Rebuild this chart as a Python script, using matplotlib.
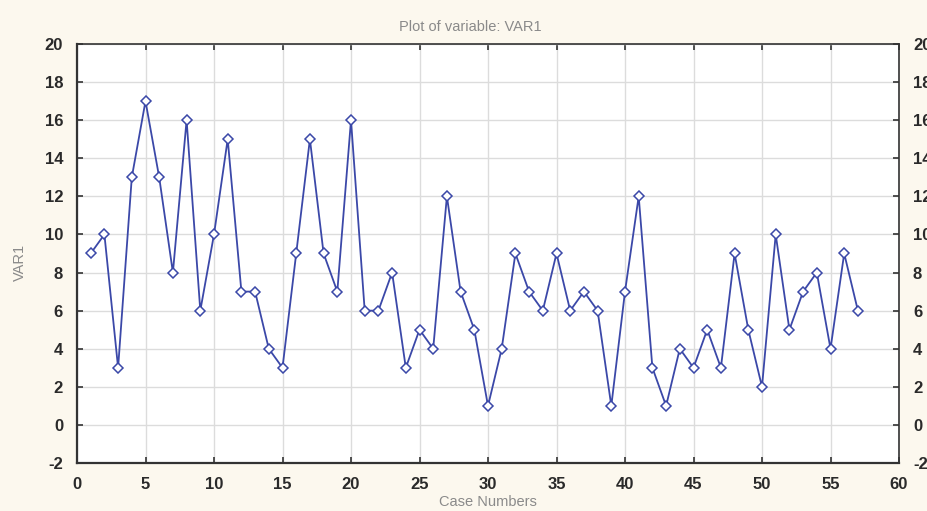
import matplotlib
matplotlib.use("Agg")
import matplotlib.pyplot as plt
import numpy as np

# ─────────────────────────────────────────────
# DATA
# ─────────────────────────────────────────────
case_numbers = list(range(1, 58))
var1 = [9, 10, 3, 13, 17, 13, 8, 16, 6, 10,
        15, 7, 7, 4, 3, 9, 15, 9, 7, 16,
        6, 6, 8, 3, 5, 4, 12, 7, 5, 1,
        4, 9, 7, 6, 9, 6, 7, 6, 1, 7,
        12, 3, 1, 4, 3, 5, 3, 9, 5, 2,
        10, 5, 7, 8, 4, 9, 6]
x_ticks = [0, 5, 10, 15, 20, 25, 30, 35, 40, 45, 50, 55, 60]
y_ticks = [-2, 0, 2, 4, 6, 8, 10, 12, 14, 16, 18, 20]

plt.rcParams["font.family"] = ["Liberation Sans", "DejaVu Sans"]
plt.rcParams["axes.unicode_minus"] = False

line_color = "#3b48a8"
text_gray = "#8a8a8a"
tick_color = "#2a2a2a"

fig = plt.figure(figsize=(9.27, 5.11), dpi=100, facecolor="#fcf8ee")
ax = fig.add_axes([77 / 927, 1 - 463 / 511, 822 / 927, 419 / 511])
ax.set_facecolor("white")

ax.plot(case_numbers, var1, color=line_color, linewidth=1.3,
        marker="D", markersize=5, markerfacecolor="white",
        markeredgecolor=line_color, markeredgewidth=1.1, zorder=3)

ax.set_xlim(0, 60)
ax.set_ylim(-2, 20)
ax.set_xticks(x_ticks)
ax.set_yticks(y_ticks)
ax.grid(True, color="#dcdcdc", linewidth=1.0)
ax.set_axisbelow(True)

for side in ["left", "bottom"]:
    ax.spines[side].set_linewidth(1.6)
    ax.spines[side].set_color("#333333")
for side in ["top", "right"]:
    ax.spines[side].set_linewidth(1.2)
    ax.spines[side].set_color("#333333")

# right-hand labels run off the edge, as in the original export
ax.tick_params(axis="both", direction="in", length=4, width=1.2,
               color="#333333", labelsize=12, labelcolor=tick_color,
               top=True, right=True, labelright=True)
ax.tick_params(axis="x", pad=10)
ax.tick_params(axis="y", pad=10)
for lab in ax.get_xticklabels() + ax.get_yticklabels():
    lab.set_fontweight("bold")
for t in ax.yaxis.get_major_ticks():
    t.label2.set_fontweight("bold")

fig.text(470 / 927, 1 - 27 / 511, "Plot of variable: VAR1", ha="center",
         va="center", fontsize=10.5, color=text_gray)
fig.text(20 / 927, 1 - 262 / 511, "VAR1", ha="center", va="center",
         rotation=90, fontsize=10.5, color=text_gray)
fig.text(488 / 927, 1 - 502 / 511, "Case Numbers", ha="center",
         va="center", fontsize=10.5, color=text_gray)

plt.savefig("out.png", dpi=100, facecolor=fig.get_facecolor())
